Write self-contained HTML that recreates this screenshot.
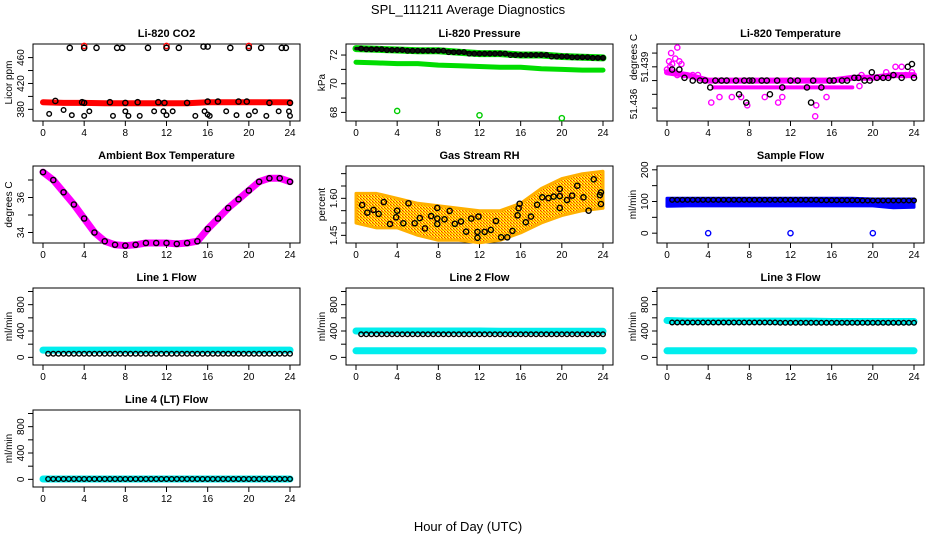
<!DOCTYPE html>
<html><head><meta charset="utf-8"><style>
html,body{margin:0;padding:0;background:#fff}
svg{display:block;font-family:"Liberation Sans",Arial,sans-serif}
</style></head><body>
<svg id="chart" width="936" height="540" viewBox="0 0 936 540" xmlns="http://www.w3.org/2000/svg">
<defs>
<pattern id="rhpat" width="3" height="3" patternUnits="userSpaceOnUse"><rect width="3" height="3" fill="#ffe000"/><rect width="1" height="1" fill="#ff2000"/><rect x="1" y="1" width="1" height="1" fill="#ff5000"/><rect x="2" y="2" width="1" height="1" fill="#ff8000"/><rect x="2" y="0" width="1" height="1" fill="#ffff60"/></pattern>
</defs>
<text x="468" y="14" text-anchor="middle" font-size="13">SPL_111211  Average Diagnostics</text>
<text x="468" y="531" text-anchor="middle" font-size="13">Hour of Day (UTC)</text>
</svg>
<script>
// ---- data ----
var xTicks = [0,4,8,12,16,20,24];
var denseTimes = [0.5,1,1.5,2,2.5,3,3.5,4,4.5,5,5.5,6,6.5,7,7.5,8,8.5,9,9.5,10,10.5,11,11.5,12,12.5,13,13.5,14,14.5,15,15.5,16,16.5,17,17.5,18,18.5,19,19.5,20,20.5,21,21.5,22,22.5,23,23.5,24];
var bandTimes = [0,2,4,6,8,10,12,14,16,18,20,22,24];
var hourTimes = [0,1,2,3,4,5,6,7,8,9,10,11,12,13,14,15,16,17,18,19,20,21,22,23,24];

// CO2
var co2Red = [391,390,390,389.5,389.5,389.5,389.5,389.5,391,391,391,391,391];
var co2RedTopT = [4,12,20], co2RedTopV = [478,478,478];
var co2TopT = [2.6,4.0,5.2,7.2,7.7,10.2,12.0,13.2,15.6,16.0,18.2,20.0,21.2,23.2,23.6];
var co2TopV = [475,475,475,475,475,475,475,475,477,477,475,475,475,475,475];
var co2MidT = [1.2,3.8,4.0,6.5,8.0,9.2,11.2,11.8,14.0,16.0,17.0,19.0,19.8,22.0,24.0];
var co2MidV = [393,391,390,391,390,391,391,390,390,392,392,392,392,390,390];
var co2LowT = [0.6,2.0,2.8,4.0,4.5,6.8,8.0,8.3,9.4,10.8,11.7,12.0,12.6,14.8,15.7,16.0,16.2,17.8,18.8,20.0,20.6,21.7,22.9,24.0,23.9];
var co2LowV = [373,379,371,370,377,370,377,370,370,377,377,371,377,370,377,372,370,377,371,371,377,370,377,370,377];

// Pressure
var presBlack = [72.45,72.4,72.35,72.3,72.3,72.2,72.1,72.1,72.0,72.0,71.9,71.85,71.8];
var presGreenLow = [71.5,71.45,71.4,71.4,71.3,71.25,71.2,71.15,71.15,71.05,71.0,70.95,70.95];
var presOutT = [4,12,20], presOutV = [68.1,67.8,67.6];

// Li-820 temperature
var tempMain = [51.4373,51.4372,51.4370,51.4370,51.4370,51.4370,51.4370,51.4370,51.4370,51.4371,51.4371,51.4372,51.4372];
var tempLowT = [4.5,6,8,10,12,14,16,18];
var tempLowV = [51.43675,51.43675,51.43675,51.43675,51.43675,51.43675,51.43675,51.43675];
var tempMagT = [0.0,0.2,0.4,0.5,0.8,1.0,1.2,1.4,0.7,1.0,2.5,3.0,4.3,5.1,6.3,7.2,7.8,9.5,10.8,11.2,14.4,14.5,15.5,18.7,18.9,21.3,22.2,22.8,23.2,23.8,0.3,1.6];
var tempMagV = [51.4374,51.4377,51.4380,51.4376,51.4378,51.4382,51.4377,51.4376,51.4373,51.4372,51.4372,51.4372,51.4362,51.4364,51.4364,51.4364,51.4361,51.4364,51.4362,51.4364,51.4357,51.4361,51.4364,51.4368,51.4372,51.4373,51.4375,51.4375,51.4372,51.4373,51.4375,51.4372];
var tempBlkT = [0.5,1.2,1.7,2.5,3.2,3.7,4.2,4.7,5.3,5.8,6.7,7.0,7.5,7.7,8.0,8.3,9.2,9.7,10.0,10.7,11.2,12.0,12.7,13.6,14.0,14.2,15.0,15.8,16.2,17.0,17.5,18.2,18.6,19.2,19.7,19.9,20.4,21.0,21.5,22.0,22.8,23.4,23.8,24.0];
var tempBlkV = [51.4374,51.4374,51.4371,51.4370,51.4370,51.4370,51.43675,51.4370,51.4370,51.4370,51.4370,51.4365,51.4370,51.4362,51.4370,51.4370,51.4370,51.4370,51.4365,51.4370,51.43675,51.4370,51.4370,51.43675,51.4362,51.4370,51.43675,51.4370,51.4370,51.4370,51.4370,51.4371,51.4371,51.4370,51.4370,51.4373,51.4371,51.4371,51.4371,51.4372,51.4371,51.4375,51.4376,51.4371];

// Ambient box temperature
var ambVals = [37.45,37.0,36.3,35.6,34.8,34.0,33.5,33.3,33.25,33.3,33.4,33.4,33.4,33.35,33.4,33.5,34.2,34.8,35.4,35.9,36.4,36.9,37.1,37.1,36.9];

// Gas stream RH
var rhUpper = [1.62,1.62,1.60,1.58,1.57,1.56,1.55,1.55,1.58,1.64,1.68,1.70,1.71];
var rhLower = [1.50,1.48,1.48,1.45,1.43,1.43,1.42,1.43,1.46,1.50,1.53,1.55,1.56];
var rhBlkT = [0.6,1.1,1.7,2.2,2.7,3.3,3.9,4.0,4.6,5.1,5.7,6.2,6.7,7.3,7.9,7.9,7.9,8.6,9.1,9.6,10.2,10.7,11.2,11.8,11.8,11.9,12.5,13.1,13.6,14.1,14.7,15.2,15.7,15.8,15.9,16.5,17.0,17.6,18.1,18.7,19.2,19.8,19.8,19.8,20.5,21.0,21.5,22.1,22.6,23.1,23.7,23.8,23.8];
var rhBlkV = [1.573,1.542,1.553,1.537,1.585,1.496,1.523,1.55,1.499,1.58,1.499,1.52,1.478,1.528,1.518,1.496,1.561,1.515,1.549,1.497,1.506,1.465,1.518,1.44,1.464,1.526,1.464,1.472,1.508,1.442,1.442,1.468,1.531,1.56,1.578,1.503,1.526,1.574,1.604,1.601,1.607,1.561,1.638,1.609,1.593,1.611,1.651,1.604,1.55,1.677,1.613,1.577,1.624];

// Sample flow
var sfUpper = [110,110,110,110,110,110,110,110,110,110,108,108,108];
var sfLower = [85,86,86,86,86,86,86,86,86,86,86,80,82];
var sfBlack = [105,105,105,105,105,105,105,105,104,104,103,103,103];
var sfOutT = [4,12,20], sfOutV = [0,0,0];

// Line flows
var l1Cyan = [110,110,110,110,110,110,110,110,110,110,110,110,110];
var l1Black = [55,55,55,55,55,55,55,55,55,55,55,55,55];
var l2CyanHi = [400,400,400,400,400,400,400,395,395,395,395,395,395];
var l2CyanLo = [100,100,100,100,100,100,100,100,100,100,100,100,100];
var l2Black = [350,350,350,350,350,350,350,350,350,350,350,350,350];
var l3CyanHi = [560,550,550,550,550,550,550,550,545,545,545,545,545];
var l3CyanLo = [100,100,100,100,100,100,100,100,100,100,100,100,100];
var l3Black = [530,530,530,530,530,530,525,525,525,525,525,525,525];
var l4Cyan = [5,5,5,5,5,5,5,5,5,5,5,5,5];
var l4Black = [5,5,5,5,5,5,5,5,5,5,5,5,5];

// ---- drawing ----
var svg = document.getElementById('chart');
var NS = 'http://www.w3.org/2000/svg';
function mk(tag, attrs, parent){
  var e = document.createElementNS(NS, tag);
  for (var k in attrs) e.setAttribute(k, attrs[k]);
  (parent||svg).appendChild(e); return e;
}
function Panel(col,row,ymin,ymax){
  var p = {};
  p.x0 = 43 + [0,313,624][col];
  p.top = 44 + 122*row; p.bot = 121 + 122*row;
  p.left = p.x0 - 10; p.right = p.x0 + 257;
  p.x = function(t){ return p.x0 + t*247/24; };
  p.y = function(v){ return p.bot - (v-ymin)/(ymax-ymin)*(p.bot-p.top); };
  p.g = mk('g',{});
  return p;
}
function frame(p, title, ylab, yticks, ylabels, name){
  
  
  var t = mk('text',{x:(p.left+p.right)/2, y:p.top-7, 'text-anchor':'middle','font-size':11,'font-weight':'bold'}, p.g);
  t.textContent = title;
  
  
  var b = mk('rect',{x:p.left, y:p.top, width:p.right-p.left, height:p.bot-p.top, fill:'none', stroke:'#000','stroke-width':1}, p.g);
  
  
  xTicks.forEach(function(v){
    var x = p.x(v);
    mk('line',{x1:x,x2:x,y1:p.bot,y2:p.bot+5,stroke:'#000'},p.g);
    var tl = mk('text',{x:x,y:p.bot+15,'text-anchor':'middle','font-size':10},p.g);
    tl.textContent = v;
    
    
  });
  yticks.forEach(function(v,i){
    var y = p.y(v);
    mk('line',{x1:p.left-5,x2:p.left,y1:y,y2:y,stroke:'#000'},p.g);
    if (ylabels[i] !== ''){
      var yl = mk('text',{x:0,y:0,'text-anchor':'middle','font-size':10,transform:'translate('+(p.left-9)+','+y+') rotate(-90)'},p.g);
      yl.textContent = ylabels[i];
      
      
    }
  });
  if (ylab){
    var a = mk('text',{x:0,y:0,'text-anchor':'middle','font-size':10,transform:'translate('+(p.left-21)+','+(p.top+p.bot)/2+') rotate(-90)'},p.g);
    a.textContent = ylab;
    
    
  }
}
function pts(p,T,V){ return T.map(function(t,i){ return p.x(t).toFixed(1)+','+p.y(V[i]).toFixed(1); }).join(' '); }
function band(p,T,V,color,w,name){
  var l = mk('polyline',{points:pts(p,T,V),fill:'none',stroke:color,'stroke-width':w,'stroke-linecap':'round','stroke-linejoin':'round'},p.g);
  
  
}
function area(p,T,U,L,fill,edge,name){
  var s = pts(p,T,U)+' '+pts(p,T.slice().reverse(),L.slice().reverse());
  var a = mk('polygon',{points:s,fill:fill,stroke:edge,'stroke-width':3,'stroke-linejoin':'round'},p.g);
  
  
}
function circles(p,T,V,color,name,r){
  T.forEach(function(t,i){
    var c = mk('circle',{cx:p.x(t),cy:p.y(V[i]),r:r||2.6,fill:'none',stroke:color,'stroke-width':1.4},p.g);
    
    
  });
}
function stepVals(vals){
  return denseTimes.map(function(t){ return vals[Math.min(vals.length-1, Math.round(t/2))]; });
}

// CO2
var p1 = Panel(0,0,362,481);
frame(p1,'Li-820 CO2','Licor ppm',[380,400,420,440,460],['380','','420','','460'],'co2');
band(p1,bandTimes,co2Red,'#ff0000',6,'co2-red-band');
circles(p1,co2RedTopT,co2RedTopV,'#ff0000','co2-red-point');
circles(p1,co2TopT,co2TopV,'#000','co2-black-point');
circles(p1,co2MidT,co2MidV,'#000','co2-black-point');
circles(p1,co2LowT,co2LowV,'#000','co2-black-point',2.3);

// Pressure
var p2 = Panel(1,0,67.4,72.77);
frame(p2,'Li-820 Pressure','kPa',[68,69,70,71,72],['68','','70','','72'],'pressure');
band(p2,bandTimes,presGreenLow,'#00dd00',5,'pressure-green-low-band');
band(p2,bandTimes,presBlack,'#00dd00',7,'pressure-green-high-band');
band(p2,bandTimes,presBlack,'#111',3.5,'pressure-black-band');
circles(p2,denseTimes,stepVals(presBlack),'#000','pressure-black-point',2.3);
circles(p2,presOutT,presOutV,'#00cc00','pressure-green-outlier');

// Li-820 temperature
var p3 = Panel(2,0,51.43553,51.43833);
frame(p3,'Li-820 Temperature','',[51.438,51.4375,51.437,51.4365,51.436],['','','','',''],'li820-temp');
function tempLabel(txt,x,y,nm){
  var e = mk('text',{x:0,y:0,'text-anchor':'middle','font-size':10,transform:'translate('+x+','+y+') rotate(-90)'},p3.g);
  e.textContent = txt;
  
  
}
tempLabel('51.439',648,67,'li820-temp-y-tick-label');
tempLabel('degrees C',637,57,'li820-temp-y-axis-title');
tempLabel('51.436',637,104,'li820-temp-y-tick-label');
band(p3,bandTimes,tempMain,'#ff00ff',6,'li820-temp-magenta-band');
band(p3,tempLowT,tempLowV,'#ff00ff',4,'li820-temp-magenta-low-band');
circles(p3,tempMagT,tempMagV,'#ff00ff','li820-temp-magenta-point');
circles(p3,tempBlkT,tempBlkV,'#000','li820-temp-black-point');

// Ambient
var p4 = Panel(0,1,33.4,37.8);
frame(p4,'Ambient Box Temperature','degrees C',[34,35,36,37],['34','','36',''],'ambient');
band(p4,hourTimes,ambVals,'#ff00ff',7,'ambient-magenta-band');
circles(p4,hourTimes,ambVals,'#000','ambient-black-point');

// RH
var p5 = Panel(1,1,1.419,1.731);
frame(p5,'Gas Stream RH','percent',[1.45,1.50,1.55,1.60,1.65,1.70],['1.45','','','1.60','',''],'rh');
area(p5,bandTimes,rhUpper,rhLower,'url(#rhpat)','#ffb000','rh-orange-cloud');
circles(p5,rhBlkT,rhBlkV,'#000','rh-black-point');

// Sample flow
var p6 = Panel(2,1,-31,212);
frame(p6,'Sample Flow','ml/min',[0,50,100,150,200],['0','','100','','200'],'sample-flow');
area(p6,bandTimes,sfUpper,sfLower,'#0000ff','#0000ff','sample-flow-blue-band');
circles(p6,denseTimes,stepVals(sfBlack),'#000','sample-flow-black-point',2.3);
circles(p6,sfOutT,sfOutV,'#0000ff','sample-flow-blue-outlier');

// Line flows
function linePanel(col,row,title,name,cyanSets,black){
  var p = Panel(col,row,-116,1053);
  frame(p,title,'ml/min',[0,200,400,600,800,1000],['0','','400','','800',''],name);
  cyanSets.forEach(function(s){ band(p,bandTimes,s,'#00eeee',7,name+'-cyan-band'); });
  circles(p,denseTimes,stepVals(black),'#000',name+'-black-point',2.3);
}
linePanel(0,2,'Line 1 Flow','line1-flow',[l1Cyan],l1Black);
linePanel(1,2,'Line 2 Flow','line2-flow',[l2CyanHi,l2CyanLo],l2Black);
linePanel(2,2,'Line 3 Flow','line3-flow',[l3CyanHi,l3CyanLo],l3Black);
linePanel(0,3,'Line 4 (LT) Flow','line4-flow',[l4Cyan],l4Black);
</script>
</body></html>
